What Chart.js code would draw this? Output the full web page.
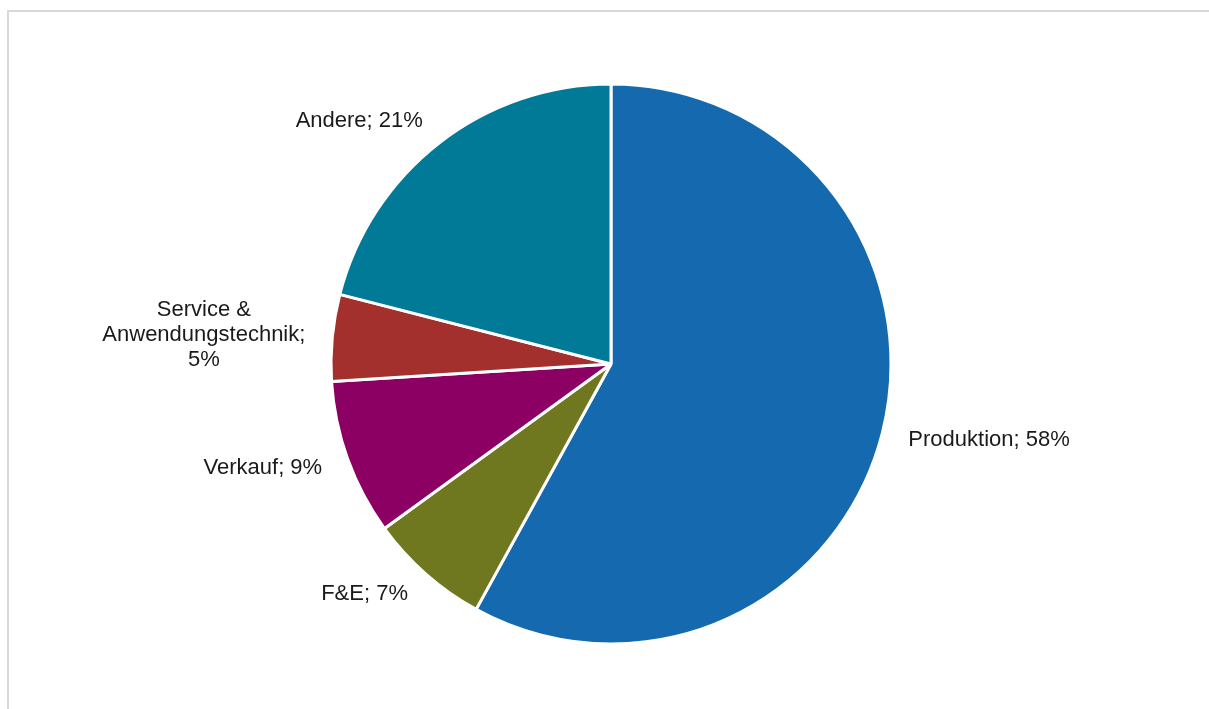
<!DOCTYPE html>
<html>
<head>
<meta charset="utf-8">
<script src="https://cdn.jsdelivr.net/npm/chart.js@4/dist/chart.umd.min.js"></script>
<style>
  html, body { margin: 0; padding: 0; background: #fff; overflow: hidden; }
  #frame {
    position: absolute; left: 7px; top: 10px; width: 1300px; height: 800px;
    border-top: 2px solid #d9d9d9; border-left: 2px solid #d9d9d9;
  }
  #wrap { position: absolute; left: 0; top: 0; width: 1209px; height: 709px; }
</style>
</head>
<body>
<div id="frame"></div>
<div id="wrap"><canvas id="pieChart" width="1209" height="709"></canvas></div>
<script>
const categories = ['Produktion', 'F&E', 'Verkauf', 'Service & Anwendungstechnik', 'Andere'];
const shares = [58, 7, 9, 5, 21];
const sliceColors = ['#156AAF', '#70781F', '#8B0062', '#A3302D', '#007A96'];
// how each label is broken into lines in the picture
const labelLines = [
    ['Produktion; 58%'],
    ['F&E; 7%'],
    ['Verkauf; 9%'],
    ['Service &', 'Anwendungstechnik;', '5%'],
    ['Andere; 21%']
];

const outsideLabels = {
    id: 'outsideLabels',
    afterDatasetsDraw(chart) {
        const ctx = chart.ctx;
        const arcs = chart.getDatasetMeta(0).data;
        ctx.save();
        ctx.font = '22px "Liberation Sans", Arial, sans-serif';
        ctx.fillStyle = '#1a1a1a';
        ctx.textBaseline = 'middle';
        const lineH = 25;
        arcs.forEach((arc, i) => {
            const mid = (arc.startAngle + arc.endAngle) / 2;
            const dist = arc.outerRadius + 27;
            const px = arc.x + Math.cos(mid) * dist;
            const py = arc.y + Math.sin(mid) * dist;
            const lines = labelLines[i];
            const maxW = Math.max(...lines.map(l => ctx.measureText(l).width));
            const right = Math.cos(mid) >= 0;
            const cx = right ? px + maxW / 2 : px - maxW / 2;
            ctx.textAlign = 'center';
            const top = py - (lines.length - 1) * lineH / 2;
            lines.forEach((l, j) => {
                ctx.fillText(l, cx, top + j * lineH);
            });
        });
        ctx.restore();
    }
};

const ctx = document.getElementById('pieChart').getContext('2d');
new Chart(ctx, {
    type: 'pie',
    data: {
        labels: categories,
        datasets: [{
            data: shares,
            backgroundColor: sliceColors,
            borderColor: '#ffffff',
            borderWidth: 3
        }]
    },
    options: {
        responsive: false,
        animation: false,
        radius: 280,
        layout: { padding: { left: 13, right: 0, top: 19, bottom: 0 } },
        plugins: {
            legend: { display: false },
            tooltip: { enabled: false }
        }
    },
    plugins: [outsideLabels]
});
</script>
</body>
</html>
